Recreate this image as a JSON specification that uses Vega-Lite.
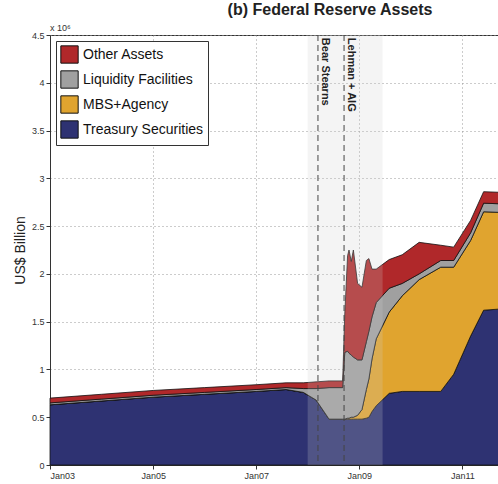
{
  "$schema": "https://vega.github.io/schema/vega-lite/v6.json",
  "autosize": "none",
  "width": 460,
  "height": 430,
  "padding": {"left": 50, "top": 35, "right": 0, "bottom": 19},
  "background": "white",
  "config": {
    "font": "Liberation Sans",
    "view": {"stroke": "#333"},
    "axis": {"gridDash": [1, 3], "gridColor": "#999", "domainColor": "#333", "tickColor": "#333", "labelColor": "#333", "labelFontSize": 9}
  },
  "title": {"text": "(b) Federal Reserve Assets", "fontSize": 16, "fontWeight": "bold", "anchor": "middle", "dx": 50, "offset": 6, "color": "#222"},
  "datasets": {
    "assets": [
      {"date": "2003-01-01", "T": 0.63, "M": 0, "L": 0.02, "O": 0.05},
      {"date": "2004-01-01", "T": 0.67, "M": 0, "L": 0.02, "O": 0.05},
      {"date": "2005-01-01", "T": 0.71, "M": 0, "L": 0.02, "O": 0.05},
      {"date": "2006-01-01", "T": 0.74, "M": 0, "L": 0.02, "O": 0.05},
      {"date": "2007-01-01", "T": 0.77, "M": 0, "L": 0.02, "O": 0.05},
      {"date": "2007-08-01", "T": 0.79, "M": 0, "L": 0.02, "O": 0.05},
      {"date": "2007-12-01", "T": 0.76, "M": 0, "L": 0.04, "O": 0.06},
      {"date": "2008-03-01", "T": 0.68, "M": 0, "L": 0.12, "O": 0.07},
      {"date": "2008-06-01", "T": 0.48, "M": 0, "L": 0.33, "O": 0.07},
      {"date": "2008-09-05", "T": 0.48, "M": 0, "L": 0.33, "O": 0.07},
      {"date": "2008-09-20", "T": 0.48, "M": 0, "L": 0.7, "O": 0.4},
      {"date": "2008-10-10", "T": 0.48, "M": 0.01, "L": 0.7, "O": 1.0},
      {"date": "2008-10-20", "T": 0.48, "M": 0.01, "L": 0.68, "O": 1.08},
      {"date": "2008-11-05", "T": 0.48, "M": 0.02, "L": 0.65, "O": 0.98},
      {"date": "2008-11-20", "T": 0.48, "M": 0.02, "L": 0.63, "O": 1.12},
      {"date": "2008-12-20", "T": 0.48, "M": 0.04, "L": 0.58, "O": 0.8},
      {"date": "2009-01-20", "T": 0.48, "M": 0.1, "L": 0.52, "O": 0.76},
      {"date": "2009-02-20", "T": 0.49, "M": 0.3, "L": 0.5, "O": 0.85},
      {"date": "2009-03-10", "T": 0.5, "M": 0.4, "L": 0.5, "O": 0.76},
      {"date": "2009-04-01", "T": 0.56, "M": 0.55, "L": 0.44, "O": 0.5},
      {"date": "2009-05-01", "T": 0.62, "M": 0.7, "L": 0.38, "O": 0.35},
      {"date": "2009-08-01", "T": 0.75, "M": 0.85, "L": 0.25, "O": 0.3},
      {"date": "2009-11-01", "T": 0.77, "M": 1.0, "L": 0.13, "O": 0.3},
      {"date": "2010-03-01", "T": 0.77, "M": 1.17, "L": 0.06, "O": 0.33},
      {"date": "2010-08-01", "T": 0.77, "M": 1.3, "L": 0.07, "O": 0.16},
      {"date": "2010-11-01", "T": 0.95, "M": 1.12, "L": 0.07, "O": 0.14},
      {"date": "2011-03-01", "T": 1.35, "M": 1.0, "L": 0.08, "O": 0.13},
      {"date": "2011-06-01", "T": 1.62, "M": 1.03, "L": 0.09, "O": 0.12},
      {"date": "2011-12-05", "T": 1.64, "M": 1.0, "L": 0.09, "O": 0.12}
    ],
    "events": [
      {"date": "2008-03-14", "label": "Bear Stearns"},
      {"date": "2008-09-15", "label": "Lehman + AIG"}
    ],
    "crisis": [{"start": "2008-01-01", "end": "2009-06-15"}]
  },
  "layer": [
    {
      "data": {"name": "assets"},
      "transform": [
        {"fold": ["T", "M", "L", "O"], "as": ["key", "value"]},
        {"calculate": "indexof(['T','M','L','O'], datum.key)", "as": "ord"},
        {"calculate": "{'T':'Treasury Securities','M':'MBS+Agency','L':'Liquidity Facilities','O':'Other Assets'}[datum.key]", "as": "series"}
      ],
      "mark": {"type": "area", "stroke": "#111", "strokeWidth": 0.8},
      "encoding": {
        "x": {"field": "date", "type": "temporal", "scale": {"domain": ["2003-01-01", "2011-12-05"]},
          "axis": {"values": ["2003-01-01", "2005-01-01", "2007-01-01", "2009-01-01", "2011-01-01"], "format": "%b%y", "title": null, "grid": true, "tickSize": 4}},
        "y": {"field": "value", "type": "quantitative", "stack": "zero", "scale": {"domain": [0, 4.5]},
          "axis": {"values": [0, 0.5, 1, 1.5, 2, 2.5, 3, 3.5, 4, 4.5], "format": "~g", "title": "US$ Billion", "titleFontSize": 14, "titleFontWeight": "normal", "titleColor": "#222", "grid": true, "tickSize": 4}},
        "order": {"field": "ord"},
        "color": {"field": "series", "type": "nominal",
          "scale": {"domain": ["Other Assets", "Liquidity Facilities", "MBS+Agency", "Treasury Securities"], "range": ["#b0282a", "#a0a0a0", "#e0a42f", "#2e3272"]},
          "legend": {"title": null, "orient": "top-left", "offset": 6, "symbolType": "square", "symbolSize": 300, "symbolStrokeColor": "#111", "symbolStrokeWidth": 1, "labelFontSize": 14, "labelColor": "#111", "rowPadding": 2, "fillColor": "white", "strokeColor": "#333", "padding": 4}}
      }
    },
    {
      "data": {"name": "crisis"},
      "mark": {"type": "rect", "color": "#cfcfcf", "opacity": 0.22},
      "encoding": {"x": {"field": "start", "type": "temporal"}, "x2": {"field": "end"}}
    },
    {
      "data": {"name": "events"},
      "mark": {"type": "rule", "strokeDash": [6, 4], "color": "#444", "strokeWidth": 1},
      "encoding": {"x": {"field": "date", "type": "temporal"}}
    },
    {
      "data": {"name": "events"},
      "mark": {"type": "text", "angle": 90, "align": "left", "baseline": "bottom", "dy": -2, "fontSize": 11, "fontWeight": "bold", "color": "#222"},
      "encoding": {"x": {"field": "date", "type": "temporal"}, "y": {"datum": 4.47}, "text": {"field": "label"}}
    },
    {
      "data": {"values": [{"t": "x 10⁶"}]},
      "mark": {"type": "text", "align": "left", "baseline": "bottom", "dy": -2, "fontSize": 9, "color": "#333"},
      "encoding": {"x": {"datum": "2003-01-01", "type": "temporal"}, "y": {"datum": 4.5}, "text": {"field": "t"}}
    }
  ]
}
